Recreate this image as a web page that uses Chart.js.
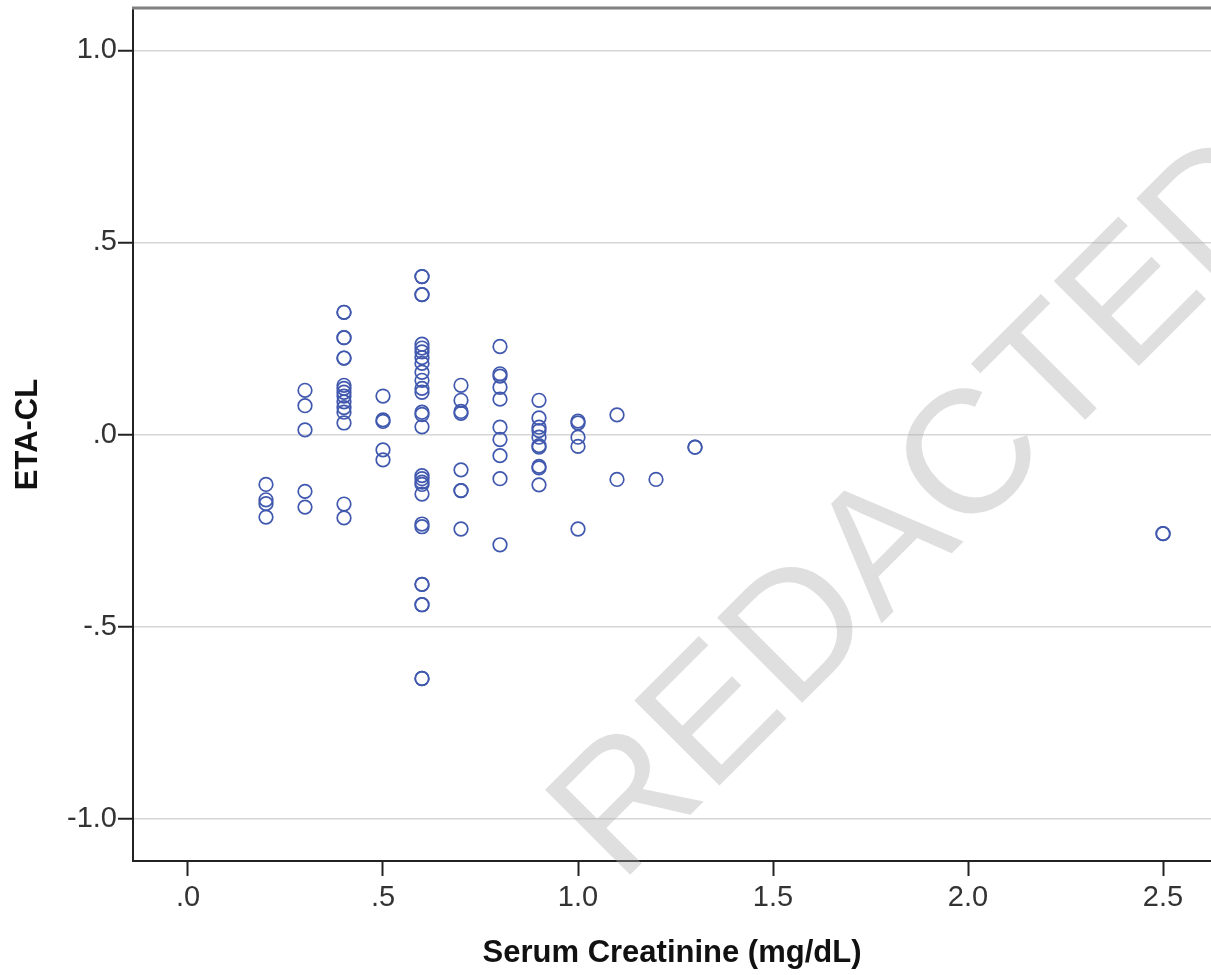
<!DOCTYPE html>
<html>
<head>
<meta charset="utf-8">
<script src="https://cdn.jsdelivr.net/npm/chart.js@4.4.1/dist/chart.umd.min.js"></script>
<style>
  html, body { margin: 0; padding: 0; background: #fff; }
  #wrap { width: 1211px; height: 975px; }
</style>
</head>
<body>
<div id="wrap"><canvas id="scatterChart" width="1211" height="975"></canvas></div>
<script>
// valores (um ponto por par creatinine/etaCl)
const creatinine = [
  0.2, 0.2, 0.2, 0.2,
  0.3, 0.3, 0.3, 0.3, 0.3,
  0.4, 0.4, 0.4, 0.4, 0.4, 0.4, 0.4, 0.4, 0.4, 0.4, 0.4, 0.4, 0.4, 0.4, 0.4, 0.4,
  0.5, 0.5, 0.5, 0.5, 0.5,
  0.6, 0.6, 0.6, 0.6, 0.6, 0.6, 0.6, 0.6, 0.6, 0.6, 0.6, 0.6, 0.6, 0.6, 0.6, 0.6,
  0.6, 0.6, 0.6, 0.6, 0.6, 0.6, 0.6, 0.6, 0.6, 0.6, 0.6, 0.6, 0.6,
  0.7, 0.7, 0.7, 0.7, 0.7, 0.7, 0.7, 0.7,
  0.8, 0.8, 0.8, 0.8, 0.8, 0.8, 0.8, 0.8, 0.8, 0.8,
  0.9, 0.9, 0.9, 0.9, 0.9, 0.9, 0.9, 0.9, 0.9, 0.9,
  1.0, 1.0, 1.0, 1.0, 1.0,
  1.1, 1.1,
  1.2,
  1.3, 1.3,
  2.5, 2.5
];
const etaCl = [
  -0.13, -0.17, -0.18, -0.215,
  0.115, 0.075, 0.012, -0.148, -0.189,
  0.318, 0.318, 0.252, 0.252, 0.199, 0.199, 0.128, 0.12, 0.11, 0.10, 0.085, 0.07, 0.058, 0.03, -0.181, -0.217,
  0.10, 0.038, 0.034, -0.04, -0.066,
  0.411, 0.411, 0.364, 0.364, 0.235, 0.225, 0.215, 0.20, 0.185, 0.162, 0.141, 0.12, 0.11, 0.058, 0.052, 0.02,
  -0.107, -0.115, -0.124, -0.13, -0.155, -0.233, -0.24, -0.39, -0.39, -0.443, -0.443, -0.635, -0.635,
  0.128, 0.089, 0.06, 0.055, -0.092, -0.146, -0.146, -0.246,
  0.229, 0.158, 0.152, 0.123, 0.092, 0.019, -0.013, -0.055, -0.115, -0.287,
  0.089, 0.043, 0.019, 0.01, -0.007, -0.029, -0.033, -0.083, -0.087, -0.131,
  0.035, 0.03, -0.007, -0.031, -0.246,
  0.051, -0.117,
  -0.117,
  -0.033, -0.033,
  -0.258, -0.258
];

const xTickValues = [0, 0.5, 1, 1.5, 2, 2.5];
const xTickLabels = ['.0', '.5', '1.0', '1.5', '2.0', '2.5'];
const yTickValues = [-1, -0.5, 0, 0.5, 1];
const yTickLabels = ['-1.0', '-.5', '.0', '.5', '1.0'];

const xTitle = 'Serum Creatinine (mg/dL)';
const yTitle = 'ETA-CL';
const stampText = 'REDACTED';

const FONT = '"Liberation Sans", Arial, sans-serif';

// borda superior cinza do quadro
const topBorder = {
  id: 'topBorder',
  afterDraw(chart) {
    const { ctx, chartArea } = chart;
    ctx.save();
    ctx.strokeStyle = '#808080';
    ctx.lineWidth = 3;
    ctx.beginPath();
    ctx.moveTo(chartArea.left - 1, chartArea.top);
    ctx.lineTo(chartArea.right, chartArea.top);
    ctx.stroke();
    ctx.restore();
  }
};

// carimbo "REDACTED" por cima de tudo
const stamp = {
  id: 'stamp',
  afterDraw(chart) {
    const { ctx, chartArea } = chart;
    ctx.save();
    ctx.translate(chartArea.left + 487, chartArea.bottom + 24);
    ctx.rotate(-45 * Math.PI / 180);
    ctx.font = '175px ' + FONT;
    ctx.fillStyle = 'rgba(170, 170, 170, 0.38)';
    ctx.textBaseline = 'alphabetic';
    ctx.fillText(stampText, 0, 0);
    ctx.restore();
  }
};

function initChart() {
  const ctx = document.getElementById('scatterChart').getContext('2d');
  const points = creatinine.map((x, i) => ({ x: x, y: etaCl[i] }));

  new Chart(ctx, {
    type: 'scatter',
    data: {
      datasets: [{
        data: points,
        pointStyle: 'circle',
        pointRadius: 6.8,
        pointHoverRadius: 6.8,
        pointBorderWidth: 1.7,
        borderColor: '#4058ae',
        backgroundColor: 'rgba(0,0,0,0)'
      }]
    },
    options: {
      responsive: false,
      animation: false,
      events: [],
      layout: { autoPadding: false, padding: { top: 8, left: 0, right: 0, bottom: 0 } },
      plugins: { legend: { display: false }, tooltip: { enabled: false } },
      scales: {
        x: {
          type: 'linear',
          min: -0.141,
          max: 2.623,
          afterBuildTicks: s => { s.ticks = xTickValues.map(v => ({ value: v })); },
          afterFit: s => { s.height = 114; s.paddingLeft = 0; s.paddingRight = 0; },
          border: { color: '#222', width: 2 },
          grid: { drawOnChartArea: false, tickLength: 15, tickColor: '#222', tickWidth: 2 },
          ticks: {
            padding: 5,
            color: '#333',
            font: { family: FONT, size: 29 },
            callback: v => xTickLabels[xTickValues.indexOf(v)]
          },
          title: {
            display: true,
            text: xTitle,
            color: '#111',
            font: { family: FONT, size: 31, weight: 'bold' },
            padding: { top: 0, bottom: 3 }
          }
        },
        y: {
          type: 'linear',
          min: -1.11,
          max: 1.11,
          afterBuildTicks: s => { s.ticks = yTickValues.map(v => ({ value: v })); },
          afterFit: s => { s.width = 133; s.paddingTop = 0; s.paddingBottom = 0; },
          border: { color: '#222', width: 2 },
          grid: { color: '#d6d6d6', lineWidth: 1.5, tickLength: 15, tickColor: '#222', tickWidth: 2 },
          ticks: {
            padding: 1,
            color: '#333',
            font: { family: FONT, size: 29 },
            callback: v => yTickLabels[yTickValues.indexOf(v)]
          },
          title: {
            display: true,
            text: yTitle,
            color: '#111',
            font: { family: FONT, size: 31, weight: 'bold' },
            padding: { top: 10, bottom: 0 }
          }
        }
      }
    },
    plugins: [topBorder, stamp]
  });
}

document.addEventListener('DOMContentLoaded', initChart);
</script>
</body>
</html>
